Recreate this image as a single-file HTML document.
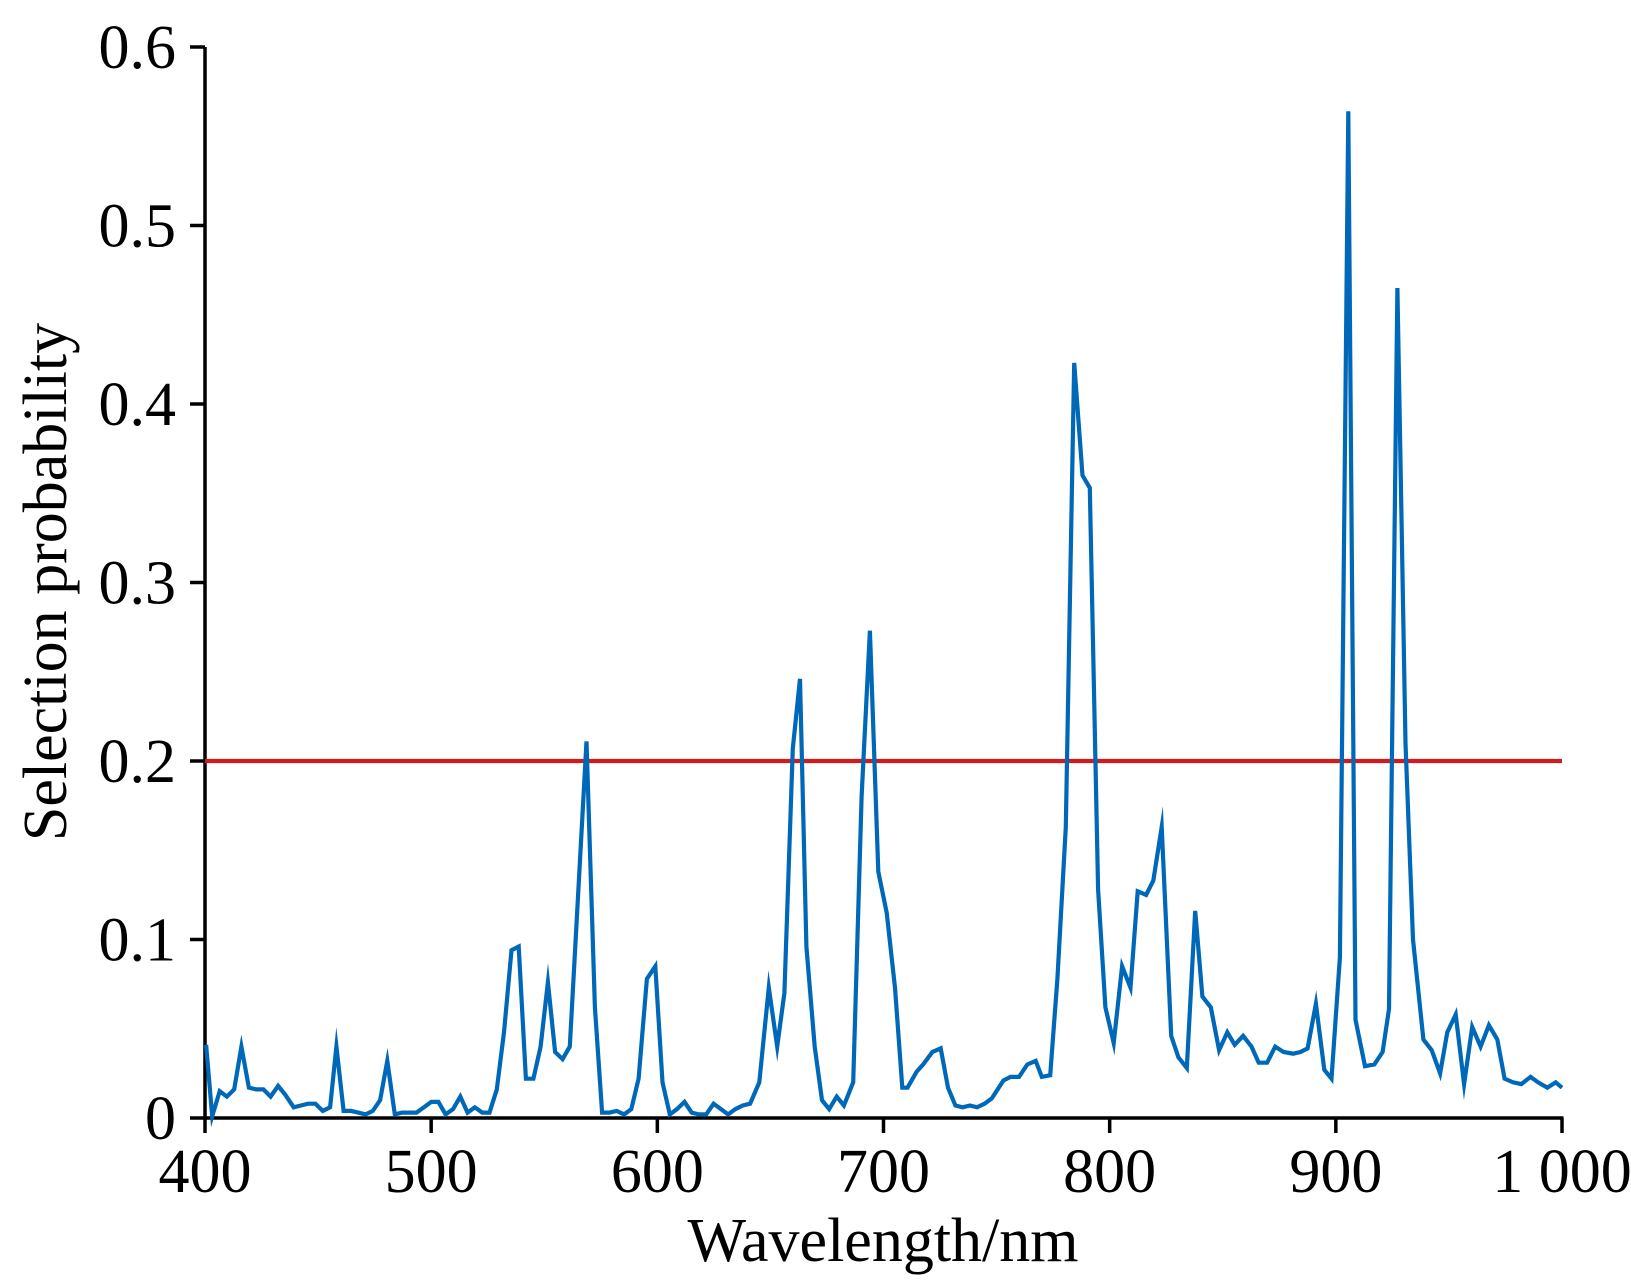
<!DOCTYPE html>
<html><head><meta charset="utf-8"><style>
html,body{margin:0;padding:0;background:#fff;}
svg{display:block;font-family:"Liberation Serif","Times New Roman",serif;}
</style></head><body>
<svg id="chart" width="1631" height="1281" viewBox="0 0 1631 1281" xmlns="http://www.w3.org/2000/svg">
<g id="axes"></g>
<g id="plot"></g>
<text x="883" y="1261" font-size="62" text-anchor="middle">Wavelength/nm</text>
<text transform="translate(66,582) rotate(-90)" font-size="62" text-anchor="middle">Selection probability</text>
</svg>
<script>
const wavelengths = [400.5,403.2,406.5,409.7,412.9,416.1,419.4,422.6,425.8,429.0,432.3,435.5,439.2,442.4,445.6,448.8,452.1,455.3,458.1,461.3,464.5,467.7,471.0,474.2,477.4,480.6,483.9,487.1,490.3,493.5,496.8,500.0,503.2,506.4,509.7,512.9,516.1,519.3,522.6,525.8,529.0,532.2,535.5,538.7,541.9,545.2,548.4,551.6,554.8,558.1,561.3,568.7,572.4,575.6,578.8,582.0,585.3,588.5,591.7,595.4,599.1,602.3,605.5,608.7,612.0,615.2,618.4,621.6,624.9,628.1,631.3,634.5,637.8,641.0,645.1,649.3,653.0,656.2,659.9,663.1,665.9,669.6,672.8,676.0,679.3,682.5,686.6,690.3,694.0,697.7,701.4,705.1,708.3,710.6,714.7,717.5,721.6,725.3,728.5,731.8,735.0,738.2,741.4,744.7,747.9,753.0,756.2,759.9,763.6,767.3,770.0,773.7,776.9,780.6,784.3,788.0,791.2,794.9,798.1,801.8,805.5,809.2,812.4,816.1,819.3,823.0,827.2,830.4,834.1,837.8,841.0,844.7,848.4,852.0,855.3,859.0,862.7,865.9,869.6,873.2,876.9,881.1,884.3,887.5,891.2,894.9,898.1,901.8,905.5,908.7,912.9,917.0,920.7,923.5,927.2,930.8,934.1,938.7,942.4,946.1,949.3,953.0,956.7,960.3,964.0,967.7,971.4,974.6,978.3,982.0,986.1,989.4,993.5,997.2,1000.0];
const probabilities = [0.041,0.001,0.015,0.012,0.016,0.040,0.017,0.016,0.016,0.012,0.018,0.013,0.006,0.007,0.008,0.008,0.004,0.006,0.040,0.004,0.004,0.003,0.002,0.004,0.010,0.032,0.002,0.003,0.003,0.003,0.006,0.009,0.009,0.002,0.005,0.012,0.003,0.006,0.003,0.003,0.016,0.048,0.094,0.096,0.022,0.022,0.040,0.076,0.037,0.033,0.040,0.211,0.062,0.003,0.003,0.004,0.002,0.005,0.022,0.078,0.085,0.020,0.002,0.005,0.009,0.003,0.002,0.002,0.008,0.005,0.002,0.005,0.007,0.008,0.020,0.073,0.040,0.070,0.207,0.246,0.096,0.040,0.010,0.005,0.012,0.007,0.020,0.180,0.273,0.138,0.115,0.073,0.017,0.017,0.026,0.030,0.037,0.039,0.017,0.007,0.006,0.007,0.006,0.008,0.011,0.021,0.023,0.023,0.030,0.032,0.023,0.024,0.078,0.163,0.423,0.360,0.353,0.128,0.062,0.042,0.085,0.073,0.127,0.125,0.133,0.163,0.046,0.034,0.028,0.116,0.068,0.062,0.038,0.048,0.041,0.046,0.040,0.031,0.031,0.040,0.037,0.036,0.037,0.039,0.064,0.027,0.022,0.090,0.564,0.055,0.029,0.030,0.037,0.061,0.465,0.210,0.100,0.044,0.038,0.025,0.048,0.058,0.019,0.051,0.040,0.052,0.044,0.022,0.020,0.019,0.023,0.020,0.017,0.020,0.017];
const xTicks = [400,500,600,700,800,900,1000];
const xTickLabels = ["400","500","600","700","800","900","1 000"];
const yTicks = [0,0.1,0.2,0.3,0.4,0.5,0.6];
const yTickLabels = ["0","0.1","0.2","0.3","0.4","0.5","0.6"];
const threshold = [0.2];

const X0=205, X1=1562, Y0=1118, Y1=47;
const xScale = v => X0 + (v-400)/600*(X1-X0);
const yScale = v => Y0 - v/0.6*(Y0-Y1);
const NS="http://www.w3.org/2000/svg";
const axes=document.getElementById('axes'), plot=document.getElementById('plot');
function mk(tag, attrs, parent){const e=document.createElementNS(NS,tag);for(const k in attrs)e.setAttribute(k,attrs[k]);parent.appendChild(e);return e;}

let e=mk('line',{x1:X0,y1:Y1,x2:X0,y2:Y0+1.5,stroke:'#000','stroke-width':3.5},axes);


e=mk('line',{x1:X0-1.5,y1:Y0,x2:X1+1.5,y2:Y0,stroke:'#000','stroke-width':3.5},axes);



yTicks.forEach((t,i)=>{
  const y=yScale(t);
  const l=mk('line',{x1:X0-15,y1:y,x2:X0,y2:y,stroke:'#000','stroke-width':3.5},axes);
  
  
  const tx=mk('text',{x:176,y:y+21,'font-size':62,'text-anchor':'end'},axes);
  tx.textContent=yTickLabels[i];
  
  
});
xTicks.forEach((t,i)=>{
  const x=xScale(t);
  const l=mk('line',{x1:x,y1:Y0,x2:x,y2:Y0+15,stroke:'#000','stroke-width':3.5},axes);
  
  
  const tx=mk('text',{x:x,y:1192,'font-size':62,'text-anchor':'middle'},axes);
  tx.textContent=xTickLabels[i];
  
  
});

const th=mk('line',{x1:X0,y1:yScale(threshold[0]),x2:X1,y2:yScale(threshold[0]),stroke:'#d01c1f','stroke-width':4.2},plot);



const pts=wavelengths.map((w,i)=>xScale(w).toFixed(1)+','+yScale(probabilities[i]).toFixed(1)).join(' ');
const pl=mk('polyline',{points:pts,fill:'none',stroke:'#0068b8','stroke-width':4.2,'stroke-linejoin':'miter','stroke-miterlimit':10},plot);


</script>
</body></html>
